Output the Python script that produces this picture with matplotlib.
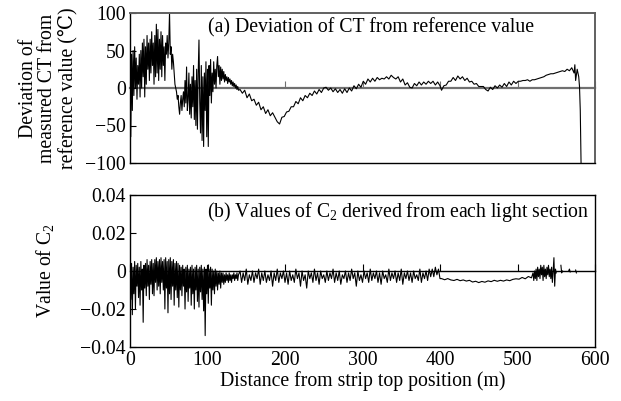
import numpy as np
import matplotlib
matplotlib.use("Agg")
import matplotlib.pyplot as plt

plt.rcParams['font.family'] = ['Liberation Serif', 'DejaVu Serif', 'DejaVu Sans']
plt.rcParams['mathtext.fontset'] = 'custom'
plt.rcParams['mathtext.rm'] = 'Liberation Serif'
plt.rcParams['mathtext.it'] = 'Liberation Serif:italic'

# ---------------- data: (a) deviation of CT from reference value ----------------
ct_x_noisy = [0, 1, 2, 3, 4, 5, 6, 7, 8, 9, 10, 11, 12, 13, 14, 15, 16, 17, 18, 19,
              20, 21, 22, 23, 24, 25, 26, 27, 28, 29, 30, 31, 32, 33, 34, 35, 36, 37, 38, 39,
              40, 41, 42, 43, 44, 45, 46, 47, 48, 49, 50, 51, 52, 53, 54, 55, 56, 57, 58, 59,
              60, 61, 62, 63, 64, 65, 66, 67, 68, 69, 70, 71, 72, 73, 74, 75, 76, 77, 78, 79,
              80, 81, 82, 83, 84, 85, 86, 87, 88, 89, 90, 91, 92, 93, 94, 95, 96, 97, 98, 99,
              100, 101, 102, 103, 104, 105, 106, 107, 108, 109, 110, 111, 112, 113, 114, 115, 116, 117, 118, 119,
              120, 121, 122, 123, 124, 125, 126, 127, 128, 129, 130, 131, 132, 133, 134, 135, 136, 137, 138, 139, 140]
ct_y_noisy = [10, -65, 45, -30, 50, -10, 55, 0, 40, -15, 30, 5, 45, -12, 50, 0, 60, 15, 65, -12,
              55, 5, 70, 25, 60, 10, 65, 20, 75, 30, 60, 5, 70, 15, 85, 20, 78, 10, 65, 25,
              75, 15, 70, 30, 55, 10, 60, 45, 70, 40, 60, 100, 45, 55, 25, 45, 35, 20, 5, 0,
              -5, -15, -10, -25, -35, -20, -10, -30, -15, -5, -25, 10, -20, 28, -30, -15, 20, -35, 5, -40,
              15, -25, 30, -42, 10, -50, 25, -55, 20, 64, -20, -60, 30, -70, 15, -78, 20, -30, 35, -65,
              25, -78, 30, -10, 38, -20, 20, -5, 35, 5, 25, 0, 30, 42, 15, 30, 5, 28, 10, 25,
              12, 22, 8, 18, 10, 15, 6, 14, 8, 12, 5, 10, 3, 8, 2, 6, 0, 4, -2, 2, -3]

ct_x_smooth = [142, 145, 148, 151, 154, 157, 160, 163, 166, 169, 172, 175, 178, 181, 184, 187, 190, 193, 196, 199,
               202, 205, 208, 211, 214, 217, 220, 223, 226, 229, 232, 235, 238, 241, 244, 247, 250, 253, 256, 259,
               262, 265, 268, 271, 274, 277, 280, 283, 286, 289, 292, 295, 298, 301, 304, 307, 310, 313, 316, 319,
               322, 325, 328, 331, 334, 337, 340, 343, 346, 349, 352, 355, 358, 361, 364, 367, 370, 373, 376, 379,
               382, 385, 388, 391, 394, 397, 400, 402, 405, 408, 411, 414, 417, 420, 423, 426, 429, 432, 435, 438,
               441, 444, 447, 450, 453, 456, 459, 462, 465, 468, 471, 474, 477, 480, 483, 486, 489, 492, 495, 498,
               501, 504, 507, 510, 513, 516, 519, 522, 525, 528, 531, 534, 537, 540, 543, 546, 549, 552, 555, 558,
               561, 564, 567, 570, 573, 574, 575, 577, 579, 580, 581, 582]
ct_y_smooth = [-2, -7, -3, -13, -8, -17, -15, -23, -19, -29, -25, -34, -29, -37, -33, -39, -45, -48, -39, -38,
               -32, -31, -25, -25, -18, -21, -13, -17, -10, -13, -7, -10, -4, -8, -2, -6, 0, 1, -3, 0,
               -5, -1, -6, -2, -7, -1, -6, 0, -4, 3, -1, 5, 1, 9, 5, 12, 8, 13, 9, 14,
               11, 13, 12, 15, 12, 17, 14, 12, 15, 8, 12, 4, 7, 1, 0, 6, 3, 8, 4, 8,
               5, 9, 6, 9, 4, 8, 3, -3, 3, 4, 9, 9, 14, 10, 16, 12, 15, 10, 13, 8,
               9, 5, 6, 2, 2, 2, -2, -4, 1, -2, 3, 0, 4, 1, 6, 2, 8, 4, 9, 6,
               9, 9, 10, 10, 11, 9, 11, 11, 12, 13, 14, 15, 17, 18, 19, 19, 20, 21, 22, 23,
               22, 25, 23, 27, 20, 31, 10, 25, 15, 2, -30, -100]

# ---------------- data: (b) values of C2 ----------------
c2_x_noisy = [0, 1, 2, 3, 4, 5, 6, 7, 8, 9, 10, 11, 12, 13, 14, 15, 16, 17, 18, 19,
              20, 21, 22, 23, 24, 25, 26, 27, 28, 29, 30, 31, 32, 33, 34, 35, 36, 37, 38, 39,
              40, 41, 42, 43, 44, 45, 46, 47, 48, 49, 50, 51, 52, 53, 54, 55, 56, 57, 58, 59,
              60, 61, 62, 63, 64, 65, 66, 67, 68, 69, 70, 71, 72, 73, 74, 75, 76, 77, 78, 79,
              80, 81, 82, 83, 84, 85, 86, 87, 88, 89, 90, 91, 92, 93, 94, 95, 96, 97, 98, 99,
              100, 101, 102, 103, 104, 105, 106, 107, 108, 109, 110, 111, 112, 113, 114, 115, 116, 117, 118, 119,
              120, 121, 122, 123, 124, 125, 126, 127, 128, 129, 130, 131, 132, 133, 134, 135, 136, 137, 138, 139, 140]
c2_y_noisy = [0.008, -0.015, 0.004, -0.023, 0.002, -0.012, 0.005, -0.020, 0.003, -0.008,
              0.004, -0.014, 0.002, -0.018, 0.005, -0.010, 0.001, -0.027, 0.003, -0.009,
              0.004, -0.013, 0.006, -0.008, 0.003, -0.015, 0.005, -0.007, 0.006, -0.012,
              0.004, -0.013, 0.006, -0.006, 0.007, -0.010, 0.005, -0.008, 0.006, -0.012,
              0.007, -0.006, 0.005, -0.010, 0.006, -0.020, 0.007, -0.009, 0.005, -0.022,
              0.006, -0.012, 0.007, -0.015, 0.005, -0.008, 0.006, -0.018, 0.004, -0.010,
              0.005, -0.014, 0.004, -0.019, 0.003, -0.010, 0.002, -0.013, 0.003, -0.008,
              0.001, -0.020, 0.002, -0.011, 0.003, -0.016, 0.001, -0.009, 0.002, -0.018,
              0.003, -0.012, 0.001, -0.020, 0.002, -0.010, 0.003, -0.016, 0.001, -0.019,
              0.002, -0.011, 0.003, -0.015, 0.001, -0.021, 0.002, -0.034, 0.001, -0.012,
              0.003, -0.017, 0.001, -0.009, 0.002, -0.018, 0.001, -0.010, 0.000, -0.012,
              0.001, -0.008, 0.000, -0.010, -0.001, -0.007, 0.000, -0.009, -0.001, -0.006,
              -0.001, -0.007, -0.002, -0.006, -0.001, -0.005, -0.002, -0.006, -0.001, -0.005,
              -0.002, -0.006, -0.002, -0.004, -0.001, -0.005, -0.002, -0.004, -0.001, -0.005, -0.002]

c2_x_mid = [142, 144, 146, 148, 150, 152, 154, 156, 158, 160, 162, 164, 166, 168, 170, 172, 174, 176, 178, 180,
            182, 184, 186, 188, 190, 192, 194, 196, 198, 200, 202, 204, 206, 208, 210, 212, 214, 216, 218, 220,
            222, 224, 226, 228, 230, 232, 234, 236, 238, 240, 242, 244, 246, 248, 250, 252, 254, 256, 258, 260,
            262, 264, 266, 268, 270, 272, 274, 276, 278, 280, 282, 284, 286, 288, 290, 292, 294, 296, 298, 300,
            302, 304, 306, 308, 310, 312, 314, 316, 318, 320, 322, 324, 326, 328, 330, 332, 334, 336, 338, 340,
            342, 344, 346, 348, 350, 352, 354, 356, 358, 360, 362, 364, 366, 368, 370, 372, 374, 376, 378, 380,
            382, 384, 386, 388, 390, 392, 394, 396, 398, 400]
c2_y_mid = [0.000, -0.006, -0.001, -0.005, 0.001, -0.007, -0.002, -0.005, 0.000, -0.006,
            -0.001, -0.004, 0.001, -0.007, -0.001, -0.005, 0.000, -0.006, -0.002, -0.005,
            0.000, -0.008, -0.001, -0.005, 0.001, -0.006, -0.001, -0.004, 0.000, -0.006,
            -0.001, -0.007, 0.000, -0.005, -0.002, -0.006, 0.001, -0.004, -0.001, -0.008,
            0.000, -0.005, -0.002, -0.009, 0.000, -0.004, -0.001, -0.006, 0.001, -0.005,
            -0.001, -0.007, 0.000, -0.004, -0.002, -0.006, 0.000, -0.005, -0.001, -0.004,
            0.001, -0.006, -0.001, -0.005, 0.000, -0.007, -0.002, -0.004, 0.000, -0.006,
            -0.001, -0.005, 0.001, -0.004, -0.001, -0.008, 0.000, -0.005, -0.002, -0.006,
            0.000, -0.004, -0.001, -0.006, 0.001, -0.005, -0.001, -0.004, 0.000, -0.006,
            -0.001, -0.007, 0.000, -0.004, -0.002, -0.006, 0.001, -0.005, -0.001, -0.004,
            0.000, -0.006, -0.001, -0.005, 0.001, -0.007, -0.001, -0.004, 0.000, -0.005,
            -0.001, -0.006, 0.000, -0.004, -0.002, -0.005, 0.001, -0.006, -0.001, -0.004,
            0.000, -0.005, 0.001, -0.003, 0.001, -0.003, 0.002, -0.002, 0.001, -0.004]

c2_x_late = [402, 406, 410, 414, 418, 422, 426, 430, 434, 438, 442, 446, 450, 454, 458, 462, 466, 470, 474, 478,
             482, 486, 490, 494, 498, 502, 506, 510, 514, 518,
             520, 521, 522, 523, 524, 525, 526, 527, 528, 529, 530, 531, 532, 533, 534, 535, 536, 537, 538, 539,
             540, 541, 542, 543, 544, 545, 546, 547, 548, 549, 550]
c2_y_late = [-0.0040, -0.0046, -0.0040, -0.0047, -0.0050, -0.0044, -0.0051, -0.0047, -0.0053, -0.0049,
             -0.0058, -0.0054, -0.0061, -0.0055, -0.0059, -0.0052, -0.0056, -0.0049, -0.0054, -0.0049,
             -0.0053, -0.0047, -0.0051, -0.0044, -0.0041, -0.0043, -0.0034, -0.0041, -0.0029, -0.0036,
             -0.001, -0.005, 0.000, -0.004, 0.001, -0.005, 0.002, -0.003, 0.001, -0.004,
             0.003, -0.002, 0.002, -0.005, 0.003, -0.003, 0.001, -0.004, 0.002, -0.002,
             0.003, -0.003, 0.001, -0.004, 0.002, -0.006, 0.000, 0.007, -0.008, 0.001, -0.001]

c2_x_tail = [556, 557, 558, 566, 567, 568, 575, 576]
c2_y_tail = [0.003, -0.001, 0.000, 0.000, 0.001, -0.0005, 0.0005, -0.001]

xticks = [0, 100, 200, 300, 400, 500, 600]
ct_ticks = [-100, -50, 0, 50, 100]
ct_ticklabels = ['\u2212100', '\u221250', '0', '50', '100']
c2_ticks = [-0.04, -0.02, 0, 0.02, 0.04]
c2_ticklabels = ['\u22120.04', '\u22120.02', '0', '0.02', '0.04']

# ---------------- figure ----------------
W, H = 621, 401
fig = plt.figure(figsize=(W / 100, H / 100), dpi=100)
ax1 = fig.add_axes([130 / W, 1 - 163 / H, 465 / W, 150 / H])
ax2 = fig.add_axes([130 / W, 1 - 347 / H, 465 / W, 152 / H])

fs = 14.2
lc = 'black'
lw = 0.8

ax1.plot(ct_x_noisy + ct_x_smooth, ct_y_noisy + ct_y_smooth, color=lc, lw=lw)
ax2.plot(c2_x_noisy + c2_x_mid + c2_x_late, c2_y_noisy + c2_y_mid + c2_y_late, color=lc, lw=lw)
ax2.plot(c2_x_tail[0:3], c2_y_tail[0:3], color=lc, lw=lw)
ax2.plot(c2_x_tail[3:6], c2_y_tail[3:6], color=lc, lw=lw)
ax2.plot(c2_x_tail[6:8], c2_y_tail[6:8], color=lc, lw=lw)

for ax, ticks, labels, zc, zlw in [(ax1, ct_ticks, ct_ticklabels, '#707070', 1.6),
                                   (ax2, c2_ticks, c2_ticklabels, 'black', 1.0)]:
    ax.set_xlim(0, 600)
    ax.set_ylim(ticks[0], ticks[-1])
    ax.set_yticks(ticks)
    ax.set_yticklabels(labels, fontsize=fs)
    ax.set_xticks(xticks)
    ax.tick_params(axis='y', direction='in', length=4, width=0.8, pad=3)
    ax.tick_params(axis='x', direction='in', length=0, pad=3)
    for s in ax.spines.values():
        s.set_linewidth(1.0)
    sec = ax.secondary_xaxis(0.5)
    sec.set_xticks(xticks)
    sec.tick_params(direction='out', length=5, width=0.8, labeltop=False, labelbottom=False,
                    color=zc)
    sec.spines['top'].set_color(zc)
    sec.spines['top'].set_linewidth(zlw)
    sec.spines['bottom'].set_color(zc)
    sec.spines['bottom'].set_linewidth(zlw)

for sname in ['top', 'right']:
    ax1.spines[sname].set_color('#606060')
    ax1.spines[sname].set_linewidth(1.4)

ax1.set_xticklabels([])
ax2.set_xticklabels([str(t) for t in xticks], fontsize=fs)
ax2.set_xlabel('Distance from strip top position (m)', fontsize=fs, labelpad=1)

ax1.set_ylabel('Deviation of\nmeasured CT from\nreference value (\u2103)', fontsize=fs,
               linespacing=1.0)
ax1.yaxis.set_label_coords(-(130 - 77) / 465, 0.5)
ax2.set_ylabel('Value of C$_2$', fontsize=fs)
ax2.yaxis.set_label_coords(-(130 - 56) / 465, 0.5)

ax1.text(0.168, 0.9, '(a) Deviation of CT from reference value', transform=ax1.transAxes,
         fontsize=fs, ha='left', va='center')
ax2.text(0.166, 0.888, '(b) Values of C$_2$ derived from each light section', transform=ax2.transAxes,
         fontsize=fs, ha='left', va='center')

fig.savefig('out.png', dpi=100)
